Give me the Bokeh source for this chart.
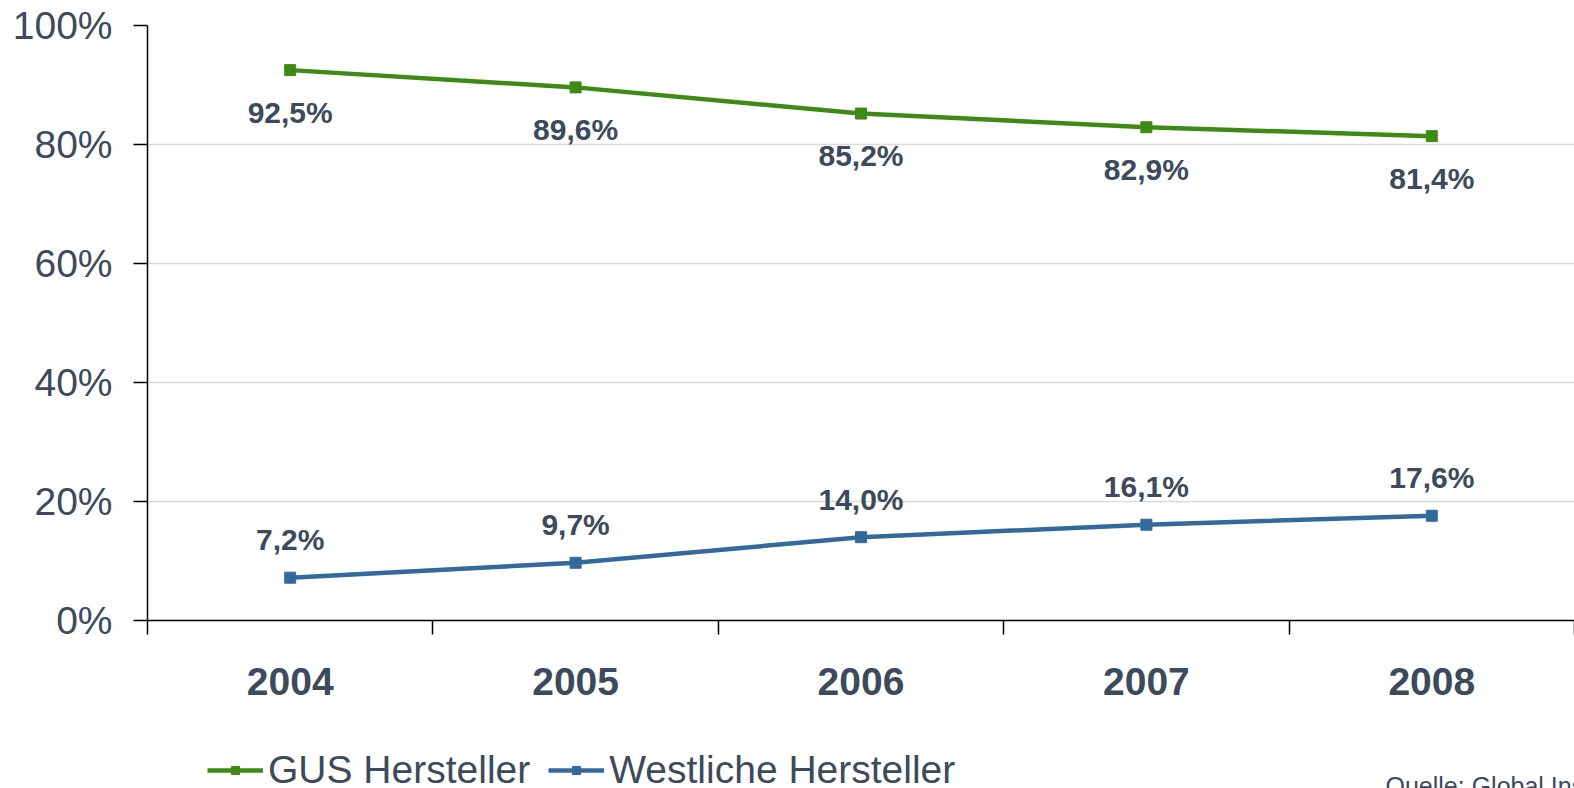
from bokeh.plotting import figure
from bokeh.layouts import column
from bokeh.models import (ColumnDataSource, FixedTicker, Legend, LegendItem, Label)
from bokeh.core.properties import value
from bokeh.embed import file_html
from bokeh.resources import INLINE

years = ["2004", "2005", "2006", "2007", "2008"]
gus = [92.5, 89.6, 85.2, 82.9, 81.4]
west = [7.2, 9.7, 14.0, 16.1, 17.6]
y_ticks = [0, 20, 40, 60, 80, 100]
series_names = ["GUS Hersteller", "Westliche Hersteller"]
source_note = "Quelle: Global Insight"

GREEN = "#3f8a14"
BLUE = "#336a9b"
TXT = "#3d4a5b"
FONT = "Liberation Sans"

xs = [i + 0.5 for i in range(len(years))]
fmt = lambda v: ("%.1f" % v).replace(".", ",") + "%"

src_g = ColumnDataSource(dict(x=xs, y=gus, lab=[fmt(v) for v in gus]))
src_w = ColumnDataSource(dict(x=xs, y=west, lab=[fmt(v) for v in west]))

p = figure(width=1574, height=712, x_range=(0, len(years)), y_range=(0, 100),
           output_backend="svg", toolbar_location=None,
           min_border_left=147, min_border_right=0, min_border_top=25,
           min_border_bottom=92)
p.outline_line_color = None
p.background_fill_color = "white"
p.border_fill_color = "white"

# grid
p.xgrid.grid_line_color = None
p.ygrid.ticker = FixedTicker(ticks=y_ticks)
p.ygrid.grid_line_color = "#d9d9de"
p.ygrid.grid_line_width = 1.5

# y axis
p.yaxis.ticker = FixedTicker(ticks=y_ticks)
p.yaxis.major_label_overrides = {t: "%d%%" % t for t in y_ticks}
p.yaxis.axis_line_color = "black"
p.yaxis.axis_line_width = 1.5
p.yaxis.major_tick_line_color = "black"
p.yaxis.major_tick_line_width = 1.5
p.yaxis.major_tick_out = 14
p.yaxis.major_tick_in = 0
p.yaxis.minor_tick_line_color = None
p.yaxis.major_label_standoff = 21
p.yaxis.major_label_text_font = FONT
p.yaxis.major_label_text_font_size = "39px"
p.yaxis.major_label_text_color = TXT

# x axis
p.xaxis.ticker = FixedTicker(ticks=xs, minor_ticks=list(range(len(years) + 1)))
p.xaxis.major_label_overrides = {x: y for x, y in zip(xs, years)}
p.xaxis.axis_line_color = "black"
p.xaxis.axis_line_width = 1.5
p.xaxis.major_tick_line_color = None
p.xaxis.major_tick_out = 0
p.xaxis.major_tick_in = 0
p.xaxis.minor_tick_line_color = "black"
p.xaxis.minor_tick_line_width = 1.5
p.xaxis.minor_tick_out = 14
p.xaxis.minor_tick_in = 0
p.xaxis.major_label_standoff = 33
p.xaxis.major_label_text_font = FONT
p.xaxis.major_label_text_font_style = "bold"
p.xaxis.major_label_text_font_size = "39px"
p.xaxis.major_label_text_color = TXT

# series
p.line("x", "y", source=src_g, line_color=GREEN, line_width=4.5)
p.scatter("x", "y", source=src_g, marker="square", size=11,
          fill_color=GREEN, line_color=GREEN)
p.line("x", "y", source=src_w, line_color=BLUE, line_width=4.5)
p.scatter("x", "y", source=src_w, marker="square", size=11,
          fill_color=BLUE, line_color=BLUE)

p.text("x", "y", text="lab", source=src_g, y_offset=42,
       text_align="center", text_baseline="middle",
       text_font=value(FONT), text_font_style="bold",
       text_font_size="30px", text_color=TXT)
p.text("x", "y", text="lab", source=src_w, y_offset=-38,
       text_align="center", text_baseline="middle",
       text_font=value(FONT), text_font_style="bold",
       text_font_size="30px", text_color=TXT)

# legend strip (series drawn off-range, only their legend glyphs show)
q = figure(width=1574, height=76, x_range=(0, len(years)), y_range=(1000, 1001),
           output_backend="svg", toolbar_location=None,
           x_axis_location=None, y_axis_location=None,
           min_border_left=147, min_border_right=0, min_border_top=0,
           min_border_bottom=0)
q.outline_line_color = None
q.xgrid.grid_line_color = None
q.ygrid.grid_line_color = None
items = []
for name, col, src in zip(series_names, [GREEN, BLUE], [src_g, src_w]):
    r1 = q.line("x", "y", source=src, line_color=col, line_width=4.5)
    r2 = q.scatter("x", "y", source=src, marker="square", size=9,
                   fill_color=col, line_color=col)
    items.append(LegendItem(label=name, renderers=[r1, r2]))

legend = Legend(items=items, orientation="horizontal", location=(60, -4))
legend.label_text_font = FONT
legend.label_text_font_size = "39px"
legend.label_text_color = TXT
legend.glyph_width = 56
legend.glyph_height = 20
legend.label_standoff = 5
legend.spacing = 18
legend.padding = 0
legend.margin = 0
legend.border_line_color = None
legend.background_fill_alpha = 0
q.add_layout(legend, "center")

note = Label(x=1238, y=17, x_units="screen", y_units="screen",
             text=source_note, text_font=FONT, text_baseline="top",
             text_font_size="25px", text_color=TXT)
q.add_layout(note)

layout = column(p, q, spacing=0)
open("out.html", "w").write(file_html(layout, INLINE))
